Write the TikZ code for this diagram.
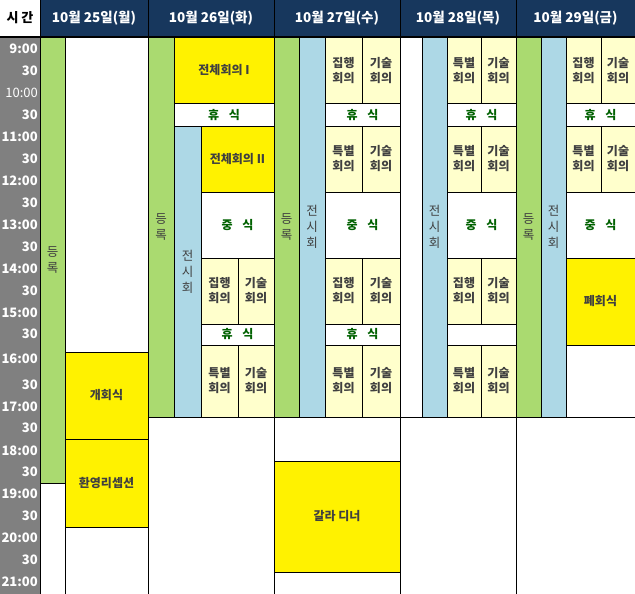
\documentclass[tikz,border=0pt]{standalone}
\usepackage{fontspec}
\setmainfont{Noto Sans CJK KR}
\usepackage{tikz}
\usepackage{xcolor}

\definecolor{navy}{RGB}{23,55,93}
\definecolor{timegray}{RGB}{128,128,128}
\definecolor{reggreen}{RGB}{170,218,112}
\definecolor{expoblue}{RGB}{173,216,230}
\definecolor{sessyellow}{RGB}{255,255,204}
\definecolor{txtgray}{RGB}{64,64,64}
\definecolor{restgreen}{RGB}{0,97,0}

\tikzset{
  cellbox/.style={draw=black, line width=1pt, inner sep=0pt, align=center,
    text=txtgray, font=\bfseries\fontsize{12}{15}\selectfont},
  plen/.style={fill=yellow},
  sess/.style={fill=sessyellow},
  rest/.style={fill=white, text=restgreen},
  blank/.style={fill=white},
  reg/.style={fill=reggreen, font=\fontsize{12.5}{16}\selectfont},
  expo/.style={fill=expoblue, font=\fontsize{12.5}{16}\selectfont},
  daylab/.style={text=white, font=\bfseries\fontsize{13.5}{15}\selectfont},
  timelab/.style={text=white, anchor=east, inner sep=0pt,
    font=\bfseries\fontsize{13}{14}\selectfont}
}

% #1 style, #2 name, #3 x1, #4 y1, #5 x2, #6 y2, #7 text
\newcommand{\tcell}[7]{%
  \pgfmathsetmacro\tcw{#5-#3}\pgfmathsetmacro\tch{#6-#4}%
  \node[cellbox,#1,minimum width=\tcw pt,minimum height=\tch pt] (#2)
    at ({(#3+#5)/2},{(#4+#6)/2}) {#7};}
\newcommand{\gap}{\hspace{0.8em}}

\begin{document}
\begin{tikzpicture}[x=1pt, y=-1pt]

    \useasboundingbox (0,0) rectangle (635,594);

    % header and time column
    \fill[navy] (40,0) rectangle (635,37);
    \fill[timegray] (0,37) rectangle (40,594);
    \node[font=\bfseries\fontsize{13}{15}\selectfont] (hd0) at (20,18) {시\ 간};
    \foreach \lab/\hx [count=\i] in {10월 25일(월)/94, 10월 26일(화)/211,
        10월 27일(수)/337, 10월 28일(목)/458, 10월 29일(금)/575.5}
      \node[daylab] (hd\i) at (\hx,18) {\lab};
    \foreach \lab/\ty [count=\i] in {9:00/49, 30/71, {\mdseries 10:00}/93, 30/115,
        11:00/137, 30/159, 12:00/181, 30/203, 13:00/225, 30/247, 14:00/269,
        30/291, 15:00/313, 30/334, 16:00/359, 30/385, 17:00/407, 30/428,
        18:00/451, 30/472, 19:00/494, 30/516, 20:00/538, 30/560, 21:00/582}
      \node[timelab] (t\i) at (38,\ty) {\lab};

    % 10/25
    \tcell{reg}{a0}{40}{37}{65}{483}{등\\록}
    \tcell{blank}{a1}{65}{37}{148}{352}{}
    \tcell{plen}{a2}{65}{352}{148}{439}{개회식}
    \tcell{plen}{a3}{65}{439}{148}{527}{환영리셉션}
    \tcell{blank}{a4}{65}{527}{148}{594}{}
    \tcell{blank}{a5}{40}{483}{65}{594}{}

    % 10/26
    \tcell{reg}{b0}{148}{37}{174}{417}{등\\록}
    \tcell{plen}{b1}{174}{37}{274}{104}{전체회의 I}
    \tcell{rest}{b2}{174}{104}{274}{126}{휴\gap 식}
    \tcell{expo}{b3}{174}{126}{201}{417}{전\\시\\회}
    \tcell{plen}{b4}{201}{126}{274}{192}{전체회의 II}
    \tcell{rest}{b5}{201}{192}{274}{258}{중\gap 식}
    \tcell{sess}{b6}{201}{258}{238}{324}{집행\\회의}
    \tcell{sess}{b7}{238}{258}{274}{324}{기술\\회의}
    \tcell{rest}{b8}{201}{324}{274}{345}{휴\gap 식}
    \tcell{sess}{b9}{201}{345}{238}{417}{특별\\회의}
    \tcell{sess}{b10}{238}{345}{274}{417}{기술\\회의}
    \tcell{blank}{b11}{148}{417}{274}{594}{}

    % 10/27
    \tcell{reg}{c0}{274}{37}{299}{417}{등\\록}
    \tcell{expo}{c1}{299}{37}{325}{417}{전\\시\\회}
    \tcell{sess}{c2}{325}{37}{362}{104}{집행\\회의}
    \tcell{sess}{c3}{362}{37}{400}{104}{기술\\회의}
    \tcell{rest}{c4}{325}{104}{400}{126}{휴\gap 식}
    \tcell{sess}{c5}{325}{126}{362}{192}{특별\\회의}
    \tcell{sess}{c6}{362}{126}{400}{192}{기술\\회의}
    \tcell{rest}{c7}{325}{192}{400}{258}{중\gap 식}
    \tcell{sess}{c8}{325}{258}{362}{324}{집행\\회의}
    \tcell{sess}{c9}{362}{258}{400}{324}{기술\\회의}
    \tcell{rest}{c10}{325}{324}{400}{345}{휴\gap 식}
    \tcell{sess}{c11}{325}{345}{362}{417}{특별\\회의}
    \tcell{sess}{c12}{362}{345}{400}{417}{기술\\회의}
    \tcell{blank}{c13}{274}{417}{400}{461}{}
    \tcell{plen}{c14}{274}{461}{400}{572}{갈라 디너}
    \tcell{blank}{c15}{274}{572}{400}{594}{}

    % 10/28
    \tcell{blank}{d0}{400}{37}{422}{417}{}
    \tcell{expo}{d1}{422}{37}{447}{417}{전\\시\\회}
    \tcell{sess}{d2}{447}{37}{481}{104}{특별\\회의}
    \tcell{sess}{d3}{481}{37}{516}{104}{기술\\회의}
    \tcell{rest}{d4}{447}{104}{516}{126}{휴\gap 식}
    \tcell{sess}{d5}{447}{126}{481}{192}{특별\\회의}
    \tcell{sess}{d6}{481}{126}{516}{192}{기술\\회의}
    \tcell{rest}{d7}{447}{192}{516}{258}{중\gap 식}
    \tcell{sess}{d8}{447}{258}{481}{324}{집행\\회의}
    \tcell{sess}{d9}{481}{258}{516}{324}{기술\\회의}
    \tcell{blank}{d10}{447}{324}{516}{345}{}
    \tcell{sess}{d11}{447}{345}{481}{417}{특별\\회의}
    \tcell{sess}{d12}{481}{345}{516}{417}{기술\\회의}
    \tcell{blank}{d13}{400}{417}{516}{594}{}

    % 10/29
    \tcell{reg}{e0}{516}{37}{541}{417}{등\\록}
    \tcell{expo}{e1}{541}{37}{566}{417}{전\\시\\회}
    \tcell{sess}{e2}{566}{37}{601}{104}{집행\\회의}
    \tcell{sess}{e3}{601}{37}{635}{104}{기술\\회의}
    \tcell{rest}{e4}{566}{104}{635}{126}{휴\gap 식}
    \tcell{sess}{e5}{566}{126}{601}{192}{특별\\회의}
    \tcell{sess}{e6}{601}{126}{635}{192}{기술\\회의}
    \tcell{rest}{e7}{566}{192}{635}{258}{중\gap 식}
    \tcell{plen}{e8}{566}{258}{635}{345}{폐회식}
    \tcell{blank}{e9}{566}{345}{635}{417}{}
    \tcell{blank}{e10}{516}{417}{635}{594}{}

    % frame lines
    \draw[line width=1.5pt] (0,37) -- (635,37);
    \draw[line width=1pt] (40,0) -- (40,594);
    \foreach \hx in {148,274,400,516}
      \draw[line width=1pt] (\hx,0) -- (\hx,37);

\end{tikzpicture}
\end{document}
